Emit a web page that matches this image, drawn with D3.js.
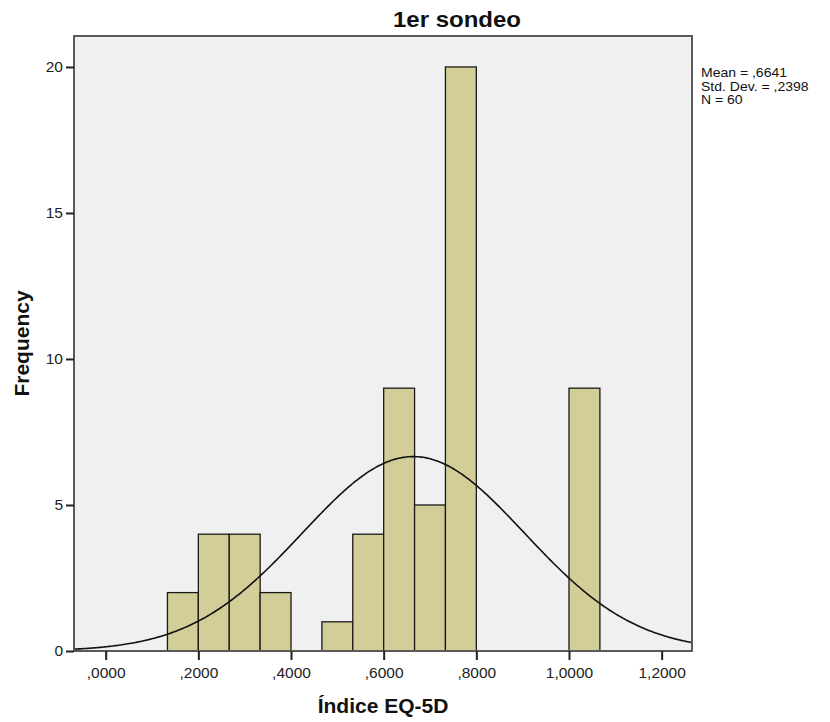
<!DOCTYPE html>
<html>
<head>
<meta charset="utf-8">
<script src="https://cdn.jsdelivr.net/npm/d3@7"></script>
<style>
  html, body { margin: 0; padding: 0; background: #ffffff; }
  svg { display: block; font-family: Arial, "Liberation Sans", sans-serif; }
</style>
</head>
<body>
<svg id="chart" width="830" height="722"></svg>
<script>
// ---- data ----
const title = "1er sondeo";
const xLabel = "Índice EQ-5D";
const yLabel = "Frequency";
const binLower = [0.1333, 0.2000, 0.2667, 0.3333, 0.4667, 0.5333, 0.6000, 0.6667, 0.7333, 1.0000];
const binCounts = [2, 4, 4, 2, 1, 4, 9, 5, 20, 9];
const binWidth = 0.0667;
const xTicks = [0, 0.2, 0.4, 0.6, 0.8, 1.0, 1.2];
const xTickLabels = [",0000", ",2000", ",4000", ",6000", ",8000", "1,0000", "1,2000"];
const yTicks = [0, 5, 10, 15, 20];
const statMean = 0.6641;
const statSD = 0.2398;
const statN = 60;
const statLines = ["Mean = ,6641", "Std. Dev. = ,2398", "N = 60"];

// ---- layout ----
const L = 74, R = 692, T = 36, B = 651;
const svg = d3.select("#chart");
const x = d3.scaleLinear().domain([-0.0684, 1.2655]).range([L, R]);
const y = d3.scaleLinear().domain([0, 21.06]).range([B, T]);

// background
svg.append("rect").attr("x", L).attr("y", T).attr("width", R - L).attr("height", B - T)
  .attr("fill", "#f0f0f0");

// bars
const bins = binLower.map((b, i) => ({ x0: b, x1: b + binWidth, n: binCounts[i] }));
svg.append("g").selectAll("rect").data(bins).join("rect")
  .attr("x", d => x(d.x0))
  .attr("y", d => y(d.n))
  .attr("width", d => x(d.x1) - x(d.x0))
  .attr("height", d => y(0) - y(d.n))
  .attr("fill", "#d3ce97")
  .attr("stroke", "#1a1a1a")
  .attr("stroke-width", 1.3);

// normal curve from stated mean / sd / N
const dens = v => statN * binWidth / (statSD * Math.sqrt(2 * Math.PI)) *
  Math.exp(-0.5 * Math.pow((v - statMean) / statSD, 2));
const xs = d3.range(0, 401).map(i => x.domain()[0] + (x.domain()[1] - x.domain()[0]) * i / 400);
svg.append("path")
  .attr("d", d3.line().x(v => x(v)).y(v => y(dens(v))).curve(d3.curveLinear)(xs))
  .attr("fill", "none").attr("stroke", "#111").attr("stroke-width", 1.6);

// frame
svg.append("rect").attr("x", L).attr("y", T).attr("width", R - L).attr("height", B - T)
  .attr("fill", "none").attr("stroke", "#5a5a5a").attr("stroke-width", 2);

// y axis
const yAxis = d3.axisLeft(y).tickValues(yTicks).tickSize(8).tickPadding(3).tickFormat(d3.format("d"));
const gy = svg.append("g").attr("transform", `translate(${L},0)`).call(yAxis);
gy.select(".domain").remove();
gy.selectAll(".tick line").attr("stroke", "#222").attr("stroke-width", 2);
gy.selectAll(".tick text").attr("font-size", 15.5).attr("fill", "#222")
  .attr("font-family", "Arial, 'Liberation Sans', sans-serif");

// x axis
const xAxis = d3.axisBottom(x).tickValues(xTicks).tickSize(9).tickPadding(7)
  .tickFormat((d, i) => xTickLabels[i]);
const gx = svg.append("g").attr("transform", `translate(0,${B})`).call(xAxis);
gx.select(".domain").remove();
gx.selectAll(".tick line").attr("stroke", "#222").attr("stroke-width", 2);
gx.selectAll(".tick text").attr("font-size", 15.5).attr("fill", "#222")
  .attr("font-family", "Arial, 'Liberation Sans', sans-serif");

// title
svg.append("text").attr("x", 457).attr("y", 27).attr("text-anchor", "middle")
  .attr("font-size", 22).attr("font-weight", "bold").attr("fill", "#111")
  .attr("textLength", 128).attr("lengthAdjust", "spacingAndGlyphs")
  .text(title);

// axis titles
svg.append("text").attr("x", (L + R) / 2).attr("y", 713).attr("text-anchor", "middle")
  .attr("font-size", 21).attr("font-weight", "bold").attr("fill", "#111")
  .text(xLabel);
svg.append("text").attr("transform", `translate(29,${(T + B) / 2}) rotate(-90)`)
  .attr("text-anchor", "middle")
  .attr("font-size", 21).attr("font-weight", "bold").attr("fill", "#111")
  .text(yLabel);

// stats (slightly condensed vertically, as in the reference)
const stats = svg.append("g").selectAll("text").data(statLines).join("text")
  .attr("x", 701).attr("y", (d, i) => 77 + i * 13.5)
  .attr("font-size", 14).attr("fill", "#111")
  .text(d => d);
stats.each(function () {
  const w = this.getComputedTextLength();
  d3.select(this).attr("font-size", 12).attr("textLength", w)
    .attr("lengthAdjust", "spacingAndGlyphs");
});
</script>
</body>
</html>
